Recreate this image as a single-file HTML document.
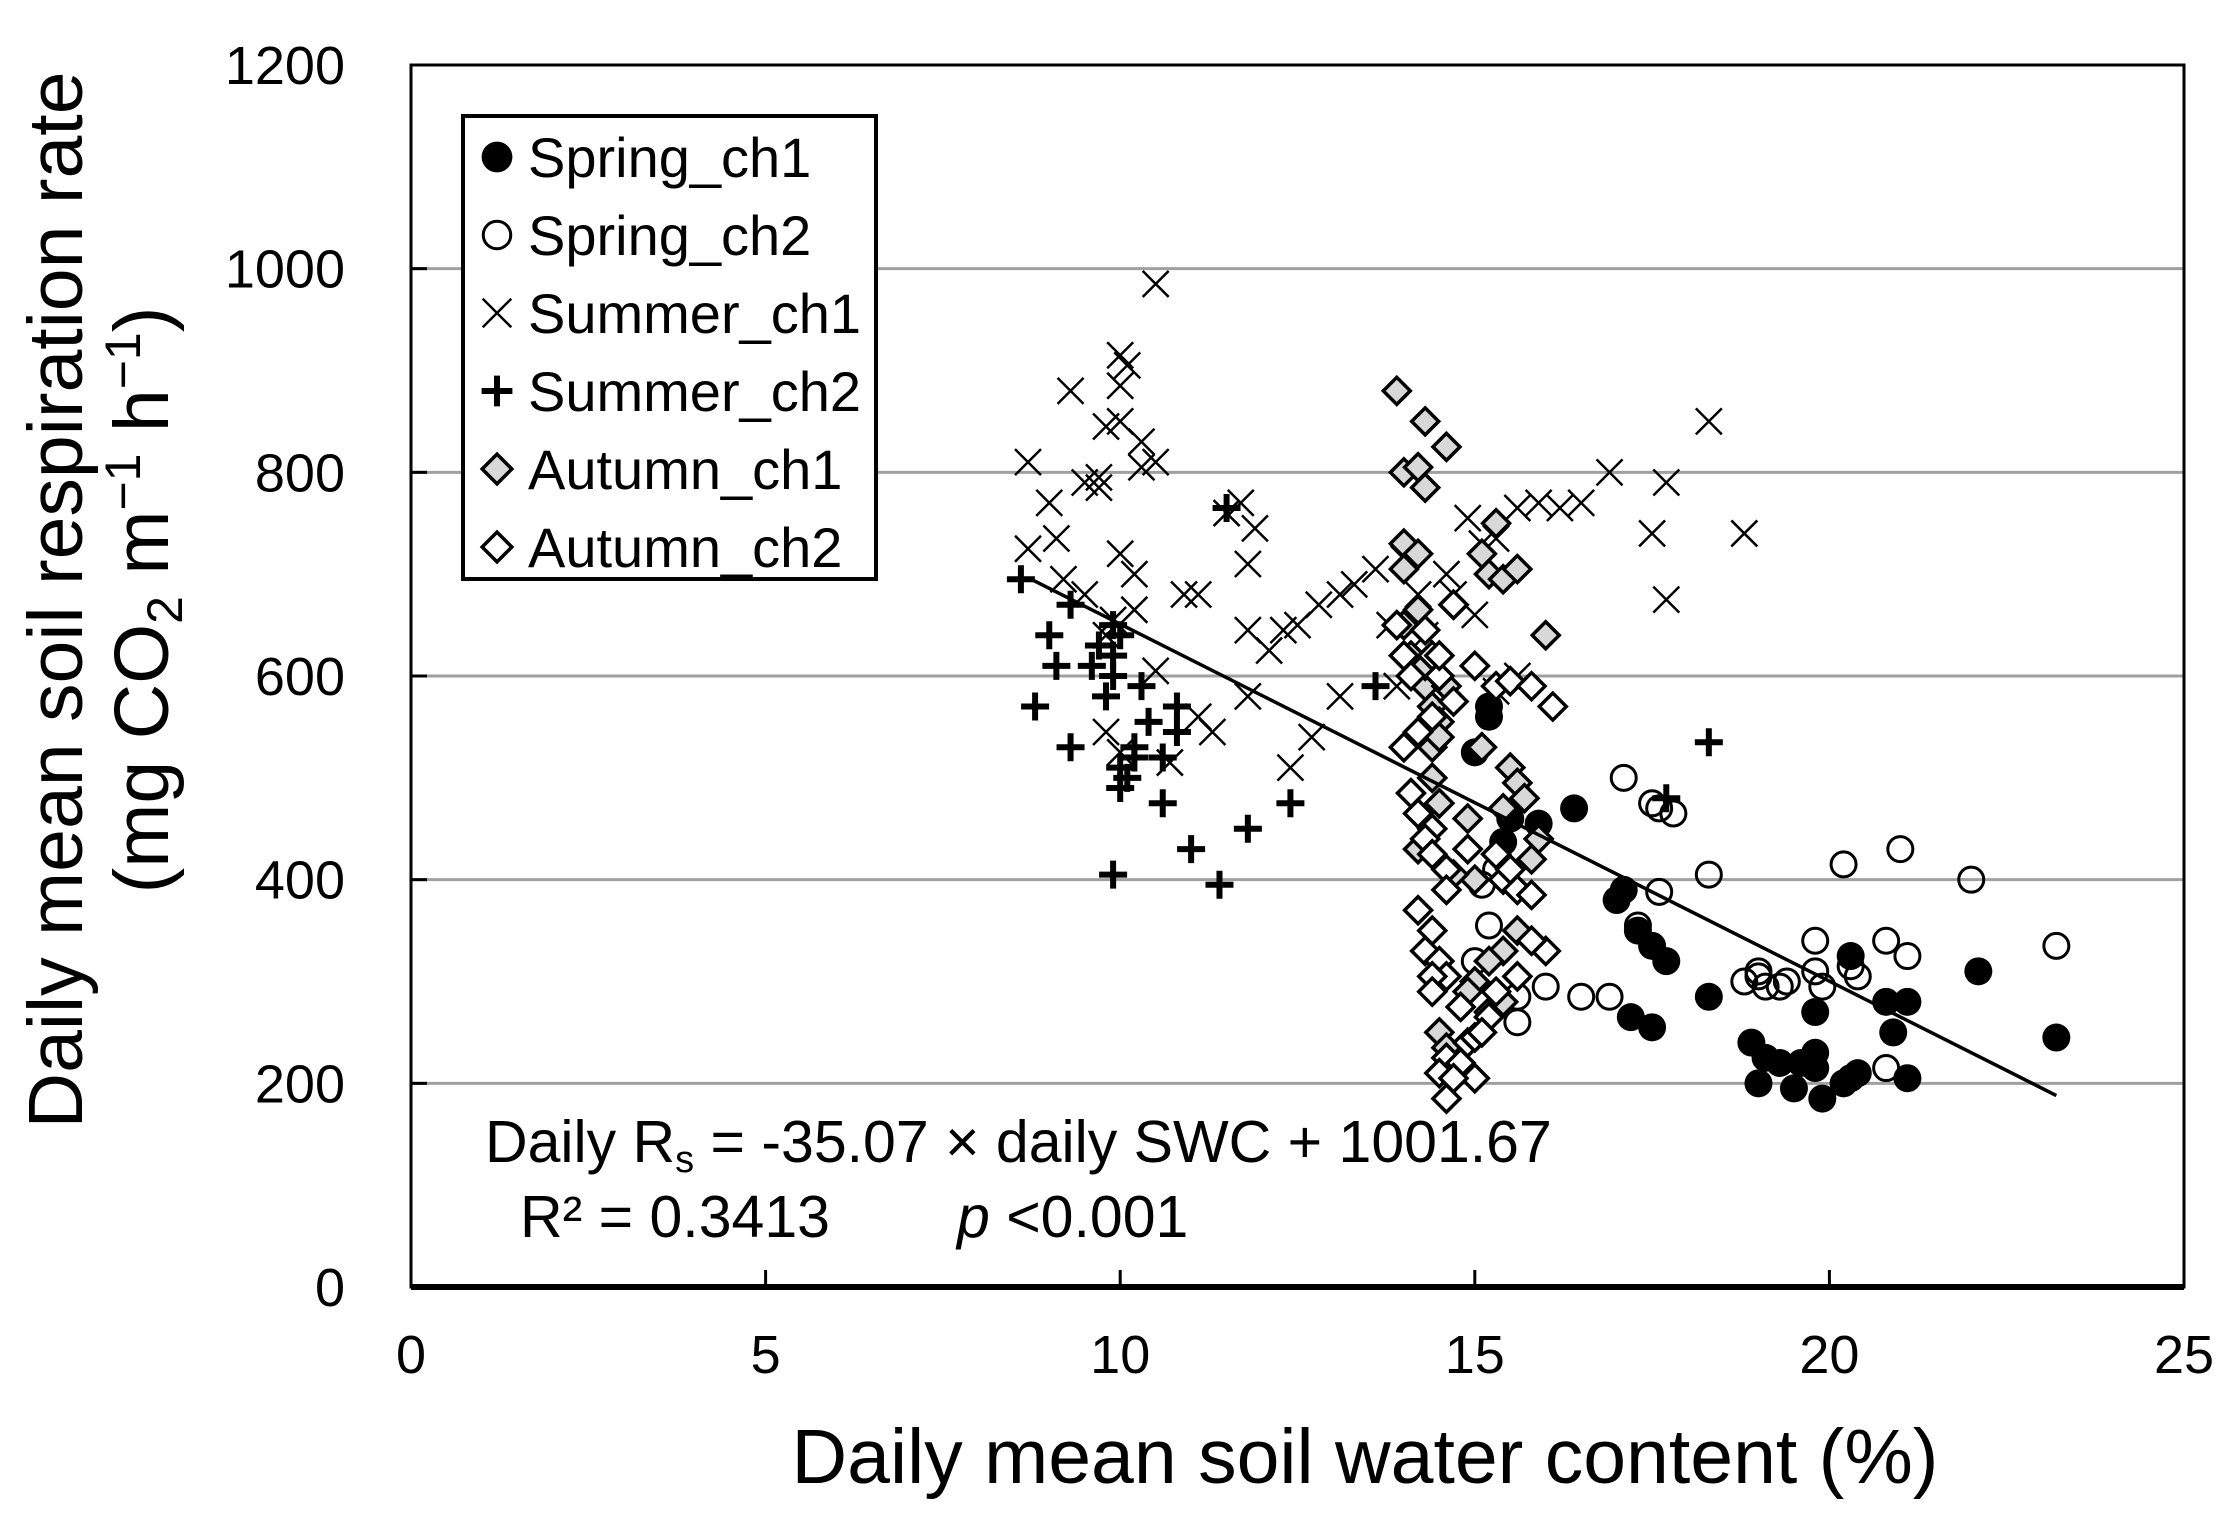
<!DOCTYPE html>
<html><head><meta charset="utf-8"><style>
html,body{margin:0;padding:0;background:#fff}
svg{display:block;font-family:"Liberation Sans",Arial,sans-serif}
</style></head><body>
<svg id="chart" width="2231" height="1513" viewBox="0 0 2231 1513" xmlns="http://www.w3.org/2000/svg">
<rect width="2231" height="1513" fill="#fff"/>
<g id="grid"></g>
<g id="axes"></g>
<g id="marks"></g>
<g id="legend"></g>
<text x="485" y="1162" font-size="59">Daily R<tspan font-size="38" dy="10">s</tspan><tspan dy="-10"> = -35.07 × daily SWC + 1001.67</tspan></text>
<text x="520" y="1237" font-size="59">R² = 0.3413</text>
<text x="957" y="1237" font-size="59"><tspan font-style="italic">p</tspan> &lt;0.001</text>
<text x="1365" y="1483" font-size="77" text-anchor="middle">Daily mean soil water content (%)</text>
<text transform="translate(82,600) rotate(-90)" font-size="77" text-anchor="middle">Daily mean soil respiration rate</text>
<text transform="translate(168,600) rotate(-90)" font-size="77" text-anchor="middle">(mg CO<tspan font-size="50" dy="14">2</tspan><tspan dy="-14"> m</tspan><tspan font-size="50" dy="-28">−1</tspan><tspan dy="28"> h</tspan><tspan font-size="50" dy="-28">−1</tspan><tspan dy="28">)</tspan></text>
</svg>
<script>
const xTicks=[0,5,10,15,20,25];
const yTicks=[0,200,400,600,800,1000,1200];
const springCh1X=[15.2,15.2,15.0,15.4,15.5,15.9,16.4,17.0,17.1,17.3,17.5,17.7,17.2,17.5,18.3,18.9,19.0,19.1,19.3,19.5,19.6,19.8,19.8,19.9,20.3,20.4,20.3,20.8,20.9,21.1,21.1,22.1,23.2,19.8,20.2];
const springCh1Y=[570,560,525,437,460,455,470,380,390,350,335,320,265,255,285,240,200,225,220,195,220,230,270,185,205,210,325,280,250,280,205,310,245,215,200];
const springCh2X=[17.1,17.5,17.6,17.8,17.6,18.3,17.3,16.9,16.5,16.0,15.6,15.1,15.3,15.2,15.0,15.6,18.8,19.0,19.1,19.3,19.4,19.8,19.8,19.9,20.2,20.3,20.4,20.8,21.0,21.1,20.8,22.0,23.2,19.0];
const springCh2Y=[500,475,470,465,388,405,355,285,285,295,285,395,410,355,320,260,300,310,295,295,300,340,310,295,415,315,305,340,430,325,215,400,335,305];
const summerCh1X=[10.5,10.0,10.1,10.0,9.3,8.7,9.0,9.1,8.7,9.5,9.7,9.8,9.7,10.0,10.3,10.5,10.3,9.2,9.5,10.0,9.9,10.2,10.2,9.8,10.5,9.8,10.0,10.7,10.9,11.1,11.5,11.7,11.9,11.8,11.8,12.1,12.3,12.5,11.8,11.3,11.1,12.4,12.7,12.8,13.1,13.3,13.6,14.0,14.2,13.8,13.1,14.6,14.9,15.1,15.3,15.6,15.9,16.2,16.5,16.9,17.5,17.7,17.7,18.3,18.8,15.0,14.7,14.3,13.9,15.6,15.3];
const summerCh1Y=[985,915,905,885,880,810,770,735,725,790,795,845,785,850,830,810,805,695,680,720,655,665,700,640,605,545,525,515,680,680,760,770,745,710,645,625,645,650,580,545,560,510,540,670,680,690,705,715,680,650,580,700,755,730,735,765,770,765,770,800,740,790,675,850,740,660,680,640,590,600,585];
const summerCh2X=[8.6,8.8,9.0,9.1,9.3,9.3,9.6,9.7,9.8,9.9,9.9,10.0,10.0,10.1,10.2,10.2,10.3,10.4,10.6,10.6,10.8,10.8,11.0,11.4,11.8,12.4,9.9,11.5,13.6,17.7,18.3,10.0,9.9];
const summerCh2Y=[695,570,640,610,530,670,610,630,580,620,600,640,510,500,530,520,590,555,520,475,570,545,430,395,450,475,405,765,590,480,535,490,650];
const autumnCh1X=[13.9,14.3,14.6,14.0,14.2,14.3,14.0,14.2,14.0,14.0,14.2,14.3,14.4,14.5,14.4,14.5,14.2,14.7,15.1,15.2,15.4,15.6,15.3,16.0,15.5,15.6,15.7,15.9,15.8,15.4,15.6,15.4,15.2,15.0,14.9,15.2,15.4,14.5,14.6,15.1,15.0,14.9,14.1,14.3,14.6,14.5,14.4,14.7];
const autumnCh1Y=[880,850,825,800,805,785,730,720,705,650,665,590,570,555,530,475,430,670,720,700,695,705,750,640,510,495,480,440,420,470,350,330,320,300,290,270,280,250,235,530,400,460,620,610,590,540,500,405];
const autumnCh2X=[13.9,14.0,14.1,14.3,14.4,14.5,14.7,14.4,14.2,14.0,14.1,14.2,14.4,14.3,14.4,14.6,14.6,14.2,14.4,14.3,14.5,14.6,14.4,14.4,14.6,14.5,14.6,14.8,14.9,15.0,14.7,15.0,15.0,15.3,15.5,15.8,16.1,15.4,15.6,15.8,16.0,15.8,15.6,15.3,15.2,15.1,14.8,14.7,14.5,14.9,15.3,15.5];
const autumnCh2Y=[650,620,600,645,620,600,575,560,545,530,485,465,450,440,425,410,390,370,350,330,320,305,305,290,225,210,185,220,240,205,205,245,610,590,595,590,570,400,390,385,330,340,305,290,265,250,275,670,620,430,425,410];
const slope=-35.07, intercept=1001.67;
const fitRange=[8.7,23.2];
const legendLabels=["Spring_ch1","Spring_ch2","Summer_ch1","Summer_ch2","Autumn_ch1","Autumn_ch2"];

const NS="http://www.w3.org/2000/svg";
const X0=411,X1=2184,Y0=1287,Y1=65;
const sx=v=>X0+(v-0)/25*(X1-X0);
const sy=v=>Y0-(v-0)/1200*(Y0-Y1);
function mk(tag,attrs,parent){const e=document.createElementNS(NS,tag);for(const k in attrs)e.setAttribute(k,attrs[k]);parent.appendChild(e);return e;}
const grid=document.getElementById('grid'),axes=document.getElementById('axes'),marks=document.getElementById('marks'),leg=document.getElementById('legend');

yTicks.forEach(t=>{
  if(t>0&&t<1200){const l=mk('line',{x1:X0,x2:X1,y1:sy(t),y2:sy(t),stroke:'#a0a0a0','stroke-width':3},grid);
  
  
  const tk=mk('line',{x1:X0,x2:X0+16,y1:sy(t),y2:sy(t),stroke:'#000','stroke-width':3},axes);
  
  }
  const tx=mk('text',{x:345,y:sy(t)+19,'font-size':54,'text-anchor':'end'},axes);tx.textContent=t;
  
  
});
xTicks.forEach(t=>{
  if(t>0&&t<25){const tk=mk('line',{x1:sx(t),x2:sx(t),y1:Y0,y2:Y0-17,stroke:'#000','stroke-width':3},axes);
  
  }
  const tx=mk('text',{x:sx(t),y:1373,'font-size':54,'text-anchor':'middle'},axes);tx.textContent=t;
  
  
});
const frame=mk('rect',{x:X0,y:Y1,width:X1-X0,height:Y0-Y1,fill:'none',stroke:'#000','stroke-width':3},axes);


const xa=mk('line',{x1:X0,x2:X1,y1:Y0,y2:Y0,stroke:'#000','stroke-width':6},axes);



function marker(type,cx,cy,parent,s){
  s=s||1;let e;
  if(type===0){e=mk('circle',{cx,cy,r:14*s,fill:'#000'},parent);}
  else if(type===1){e=mk('circle',{cx,cy,r:12.5*s,fill:'none',stroke:'#000','stroke-width':3},parent);}
  else if(type===2){const d=13*s;e=mk('path',{d:`M${cx-d},${cy-d}L${cx+d},${cy+d}M${cx-d},${cy+d}L${cx+d},${cy-d}`,stroke:'#000','stroke-width':2.5,fill:'none'},parent);}
  else if(type===3){const d=14*s;e=mk('path',{d:`M${cx-d},${cy}L${cx+d},${cy}M${cx},${cy-d}L${cx},${cy+d}`,stroke:'#000','stroke-width':6,fill:'none'},parent);}
  else {const d=13.5*s;e=mk('path',{d:`M${cx},${cy-d}L${cx+d},${cy}L${cx},${cy+d}L${cx-d},${cy}Z`,fill:type===4?'#d8d8d8':'#fff',stroke:'#000','stroke-width':3.5},parent);}
  return e;
}
const series=[[springCh1X,springCh1Y],[springCh2X,springCh2Y],[summerCh1X,summerCh1Y],[summerCh2X,summerCh2Y],[autumnCh1X,autumnCh1Y],[autumnCh2X,autumnCh2Y]];
const names=['spring-ch1-point','spring-ch2-point','summer-ch1-point','summer-ch2-point','autumn-ch1-point','autumn-ch2-point'];
[2,3,1,0,4,5].forEach(si=>{
  const [xs,ys]=series[si];
  xs.forEach((x,i)=>{const e=marker(si,sx(x),sy(ys[i]),marks);
    
    });
});
const fit=mk('line',{x1:sx(fitRange[0]),y1:sy(slope*fitRange[0]+intercept),x2:sx(fitRange[1]),y2:sy(slope*fitRange[1]+intercept),stroke:'#000','stroke-width':3.5},marks);



const lb=mk('rect',{x:463,y:116,width:413,height:463,fill:'#fff',stroke:'#000','stroke-width':4},leg);


legendLabels.forEach((lab,i)=>{
  const cy=157+i*78;
  const m=marker(i,497,cy,leg,1.1);
  
  
  const t=mk('text',{x:528,y:cy+20,'font-size':56},leg);t.textContent=lab;
  
  
});
</script>
</body></html>
